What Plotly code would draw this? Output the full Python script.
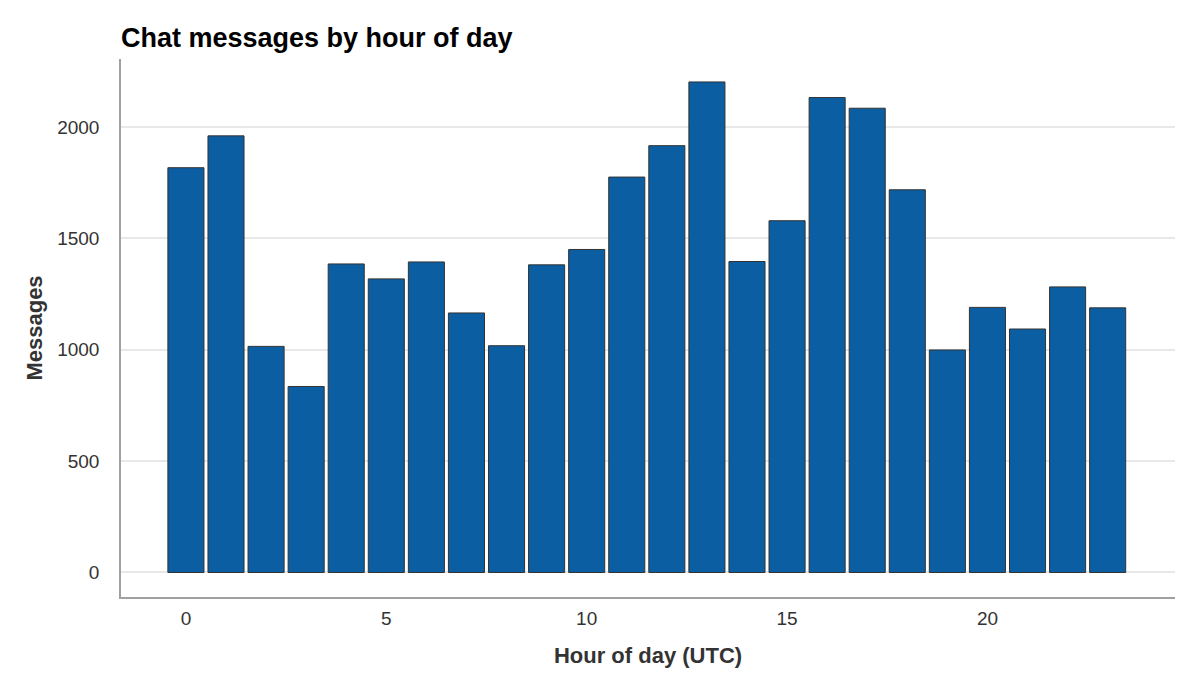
import plotly.graph_objects as go

# Hourly message counts
hours = list(range(24))
messages = [
    1817, 1960, 1015, 835, 1385, 1318, 1394, 1165, 1018, 1381, 1450, 1775,
    1916, 2202, 1396, 1579, 2132, 2084, 1718, 999, 1190, 1093, 1282, 1188,
]
x_ticks = [0, 5, 10, 15, 20]
y_ticks = [0, 500, 1000, 1500, 2000]

font_family = "Liberation Sans, Arial, sans-serif"

fig = go.Figure()
fig.add_trace(
    go.Bar(
        x=hours,
        y=messages,
        width=0.9,
        marker=dict(color="#0b5ea2", line=dict(color="#333333", width=1)),
        hovertemplate="Hour %{x}: %{y:,}<extra></extra>",
    )
)

# page body adds an 8px offset, so margins are shifted to compensate
fig.update_layout(
    width=1200,
    height=690,
    margin=dict(l=113, r=33, t=51, b=101),
    plot_bgcolor="white",
    paper_bgcolor="white",
    showlegend=False,
    font=dict(family=font_family, size=19, color="#333333"),
    title=dict(
        text="<b>Chat messages by hour of day</b>",
        x=0,
        xref="paper",
        xanchor="left",
        y=1,
        yref="paper",
        yanchor="bottom",
        pad=dict(b=12),
        font=dict(family=font_family, size=27, color="black"),
    ),
    xaxis=dict(
        range=[-1.62, 24.68],
        tickvals=x_ticks,
        showgrid=False,
        zeroline=False,
        showline=True,
        linecolor="#a0a0a0",
        linewidth=1.5,
        ticks="",
        ticklabelstandoff=3,
        title=dict(text="<b>Hour of day (UTC)</b>", standoff=20,
                   font=dict(size=22, color="#333333")),
    ),
    yaxis=dict(
        range=[-110, 2305],
        tickvals=y_ticks,
        showgrid=True,
        gridcolor="#e8e8e8",
        gridwidth=1.5,
        zeroline=False,
        showline=True,
        linecolor="#a0a0a0",
        linewidth=1.5,
        ticks="",
        ticklabelstandoff=16,
        title=dict(text="<b>Messages</b>", standoff=8,
                   font=dict(size=22, color="#333333")),
    ),
)

fig.write_html("out.html")
